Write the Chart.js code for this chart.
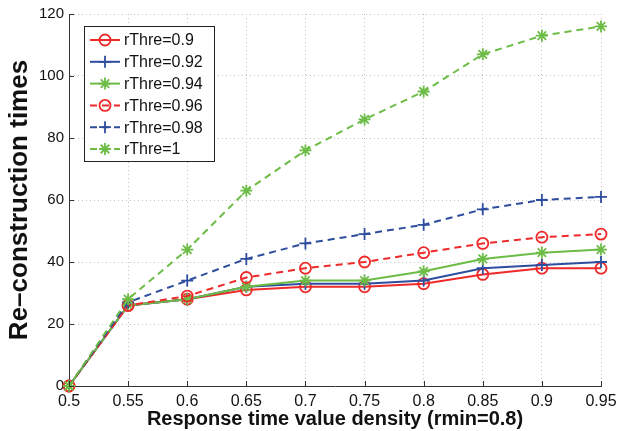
<!DOCTYPE html>
<html>
<head>
<meta charset="utf-8">
<script src="https://cdn.jsdelivr.net/npm/chart.js@4.4.0/dist/chart.umd.min.js"></script>
<style>
  body { margin: 0; background: #fff; }
  #wrap { width: 617px; height: 431px; position: relative; }
</style>
</head>
<body>
<div id="wrap"><canvas id="reconChart"></canvas></div>
<script>
// x positions (response time value density)
var xLabels = ["0.5", "0.55", "0.6", "0.65", "0.7", "0.75", "0.8", "0.85", "0.9", "0.95"];
var yTicks = [0, 20, 40, 60, 80, 100, 120];

// re-construction times for each rThre
var thre090 = [0, 26, 28, 31, 32, 32, 33, 36, 38, 38];
var thre092 = [0, 26, 28, 32, 33, 33, 34, 38, 39, 40];
var thre094 = [0, 26, 28, 32, 34, 34, 37, 41, 43, 44];
var thre096 = [0, 26, 29, 35, 38, 40, 43, 46, 48, 49];
var thre098 = [0, 27, 34, 41, 46, 49, 52, 57, 60, 61];
var thre100 = [0, 28, 44, 63, 76, 86, 95, 107, 113, 116];

var seriesNames = ["rThre=0.9", "rThre=0.92", "rThre=0.94", "rThre=0.96", "rThre=0.98", "rThre=1"];

var RED = "#ee2a2a";
var BLUE = "#2e4d9e";
var GREEN = "#6cbc45";

function makeSet(label, data, color, marker, dashed, idx) {
  return {
    label: label,
    data: data,
    borderColor: color,
    backgroundColor: marker === "circle" ? "rgba(0,0,0,0)" : color,
    borderWidth: 2,
    borderDash: dashed ? [7, 5] : [],
    pointStyle: marker,
    pointRadius: marker === "circle" ? 5.5 : 6,
    pointBorderWidth: 1.8,
    pointBorderColor: color,
    pointBackgroundColor: "rgba(0,0,0,0)",
    tension: 0,
    fill: false,
    clip: false,
    order: 10 - idx
  };
}

var datasets = [
  makeSet(seriesNames[0], thre090, RED, "circle", false, 0),
  makeSet(seriesNames[1], thre092, BLUE, "cross", false, 1),
  makeSet(seriesNames[2], thre094, GREEN, "star", false, 2),
  makeSet(seriesNames[3], thre096, RED, "circle", true, 3),
  makeSet(seriesNames[4], thre098, BLUE, "cross", true, 4),
  makeSet(seriesNames[5], thre100, GREEN, "star", true, 5)
];

// inward tick marks, y title and legend box drawn inside the plot
var extrasPlugin = {
  id: "extras",
  afterDraw: function (chart) {
    var ctx = chart.ctx;
    var area = chart.chartArea;
    var xs = chart.scales.x;
    var ys = chart.scales.y;
    ctx.save();
    ctx.strokeStyle = "#333";
    ctx.lineWidth = 1;
    ctx.setLineDash([]);
    ctx.beginPath();
    for (var i = 0; i < xLabels.length; i++) {
      var px = Math.round(xs.getPixelForValue(i)) + 0.5;
      ctx.moveTo(px, area.bottom);
      ctx.lineTo(px, area.bottom - 5);
    }
    for (var j = 0; j < yTicks.length; j++) {
      var py = Math.round(ys.getPixelForValue(yTicks[j])) + 0.5;
      ctx.moveTo(area.left, py);
      ctx.lineTo(area.left + 5, py);
    }
    ctx.stroke();

    // y axis title
    ctx.fillStyle = "#111";
    ctx.font = "bold 26px 'Liberation Sans', Arial, sans-serif";
    ctx.textAlign = "center";
    ctx.textBaseline = "middle";
    ctx.translate(20, (area.top + area.bottom) / 2);
    ctx.rotate(-Math.PI / 2);
    ctx.fillText("Re\u2013construction times", 0, 0);
    ctx.restore();

    // legend
    var bx = 84, by = 26, bw = 130, bh = 135;
    ctx.save();
    ctx.fillStyle = "#fff";
    ctx.fillRect(bx, by, bw, bh);
    ctx.strokeStyle = "#222";
    ctx.lineWidth = 1;
    ctx.strokeRect(bx + 0.5, by + 0.5, bw, bh);
    ctx.font = "16px 'Liberation Sans', Arial, sans-serif";
    ctx.textAlign = "left";
    ctx.textBaseline = "middle";
    chart.data.datasets.forEach(function (ds, k) {
      var cy = by + 14 + k * 21.8;
      ctx.strokeStyle = ds.borderColor;
      ctx.lineWidth = 2;
      ctx.setLineDash(ds.borderDash);
      ctx.beginPath();
      ctx.moveTo(bx + 6, cy);
      ctx.lineTo(bx + 36, cy);
      ctx.stroke();
      ctx.setLineDash([]);
      ctx.lineWidth = ds.pointBorderWidth;
      ctx.fillStyle = "rgba(0,0,0,0)";
      Chart.helpers.drawPoint(ctx, {
        pointStyle: ds.pointStyle,
        radius: ds.pointRadius,
        borderWidth: ds.pointBorderWidth
      }, bx + 21, cy);
      ctx.fillStyle = "#111";
      ctx.fillText(ds.label, bx + 40, cy + 1);
    });
    ctx.restore();
  }
};

var ctx = document.getElementById("reconChart").getContext("2d");
var reconChart = new Chart(ctx, {
  type: "line",
  data: { labels: xLabels, datasets: datasets },
  options: {
    responsive: true,
    maintainAspectRatio: false,
    animation: false,
    layout: { padding: { left: 0, top: 14, right: 16, bottom: 0 } },
    plugins: {
      legend: { display: false },
      tooltip: { enabled: false }
    },
    scales: {
      x: {
        type: "category",
        offset: false,
        grid: { color: "#c4c4c4", drawTicks: false, lineWidth: 1 },
        border: { color: "#333", width: 1, dash: [1, 3] },
        ticks: {
          color: "#111",
          font: { family: "'Liberation Sans', Arial, sans-serif", size: 16 },
          padding: 6,
          maxRotation: 0,
          autoSkip: false
        },
        title: {
          display: true,
          text: "Response time value density (rmin=0.8)",
          color: "#111",
          font: { family: "'Liberation Sans', Arial, sans-serif", size: 20, weight: "bold" },
          padding: { top: 0, bottom: 0 }
        },
        afterFit: function (scale) {
          scale.height = 45;
          scale.paddingLeft = 0;
          scale.paddingRight = 0;
        }
      },
      y: {
        min: 0,
        max: 120,
        grid: { color: "#c4c4c4", drawTicks: false, lineWidth: 1 },
        border: { color: "#333", width: 1, dash: [1, 3] },
        ticks: {
          stepSize: 20,
          color: "#111",
          font: { family: "'Liberation Sans', Arial, sans-serif", size: 15 },
          padding: 5
        },
        afterFit: function (scale) {
          scale.width = 69;
          scale.paddingTop = 0;
          scale.paddingBottom = 0;
        }
      }
    }
  },
  plugins: [extrasPlugin]
});
</script>
</body>
</html>
